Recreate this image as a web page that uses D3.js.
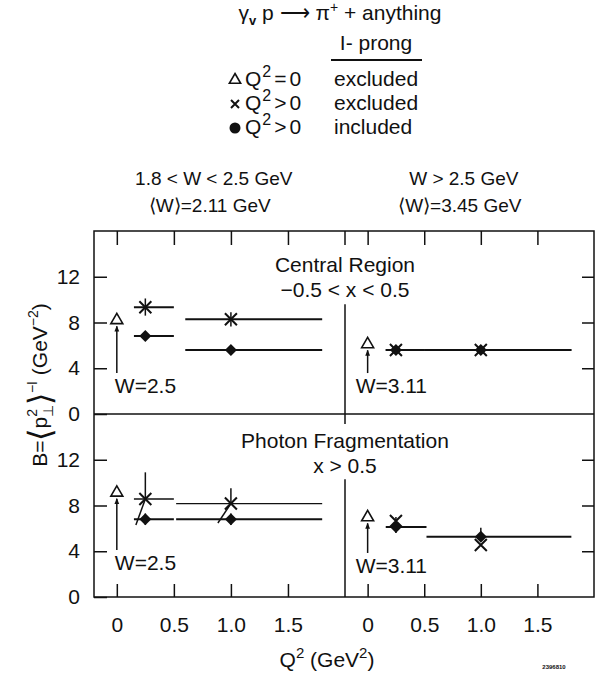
<!DOCTYPE html>
<html>
<head>
<meta charset="utf-8">
<script src="https://cdn.jsdelivr.net/npm/d3@7"></script>
<style>
  body { margin: 0; background: #fff; }
  text { fill: #111; }
</style>
</head>
<body>
<div id="chart"></div>
<script>
// ---- data ----
// panels in order: central/low W, central/high W, photon frag/low W, photon frag/high W
var q2Domain = [-0.2, 2.0];
var bDomain = [0, 16];
var yTicks = [0, 4, 8, 12];
var xTicks = [0, 0.5, 1.0, 1.5];
var xTickLabels = ["0", "0.5", "1.0", "1.5"];

var q2Centers = [0.25, 1.0];
var binStart = [[0.15, 0.6], [0.16, 0.5], [0.15, 0.52], [0.16, 0.52]];
var binEnd   = [[0.5, 1.8], [0.5, 1.8], [0.5, 1.8], [0.52, 1.8]];

// Q2 = 0, 1-prong excluded (open triangles), with threshold arrows
var realB = [8.2, 6.1, 9.12, 6.97];
var arrowFrom = [3.58, 3.58, 4.1, 3.85];
var wThreshold = ["W=2.5", "W=3.11", "W=2.5", "W=3.11"];

// Q2 > 0, 1-prong excluded (crosses)
var exclB   = [[9.33, 8.28], [5.6, 5.6], [8.57, 8.17], [6.64, 4.55]];
var exclHi  = [[10.1, 8.9], [5.6, 5.6], [10.9, 9.5], [6.64, 4.55]];
var exclLo  = [[8.6, 7.65], [5.6, 5.6], [6.3, 6.47], [6.64, 4.55]];
var exclLoQ2 = [[0.25, 1.0], [0.25, 1.0], [0.167, 0.886], [0.25, 1.0]];

// Q2 > 0, 1-prong included (filled diamonds)
var inclB  = [[6.82, 5.59], [5.6, 5.6], [6.8, 6.8], [6.12, 5.27]];
var inclHi = [[7.2, 5.9], [5.9, 5.9], [7.3, 7.3], [7.0, 6.05]];
var inclLo = [[6.5, 5.3], [5.3, 5.3], [6.3, 6.3], [5.6, 4.9]];

var wRangeLabels = ["1.8 < W < 2.5 GeV", "W > 2.5 GeV"];
var wMeanLabels = ["\u27E8W\u27E9=2.11 GeV", "\u27E8W\u27E9=3.45 GeV"];
var regionLabels = [["Central Region", "\u22120.5 < x < 0.5"], ["Photon Fragmentation", "x > 0.5"]];
var legendSymbols = ["triangle", "cross", "dot"];
var legendQ2 = ["=0", ">0", ">0"];
var legendProng = ["excluded", "excluded", "included"];

// ---- layout ----
var frame = {left: 94, right: 594, top: 231, mid: 414, bottom: 597, split: 345};
var font = "'Liberation Sans', Arial, sans-serif";

var svg = d3.select("#chart").append("svg")
  .attr("width", 597)
  .attr("height", 674)
  .style("font-family", font);

var xScales = [
  d3.scaleLinear().domain(q2Domain).range([frame.left, frame.split]),
  d3.scaleLinear().domain(q2Domain).range([frame.split, frame.right])
];
var yScales = [
  d3.scaleLinear().domain(bDomain).range([frame.mid, frame.top]),
  d3.scaleLinear().domain(bDomain).range([frame.bottom, frame.mid])
];

function crossPath(x, y, s) {
  return "M" + (x - s) + "," + (y - s) + "L" + (x + s) + "," + (y + s) +
         "M" + (x - s) + "," + (y + s) + "L" + (x + s) + "," + (y - s);
}

// title
var title = svg.append("text").attr("x", 340).attr("y", 20)
  .attr("text-anchor", "middle").attr("font-size", 21);
title.append("tspan").text("\u03B3");
title.append("tspan").attr("font-size", 13).attr("font-weight", "bold").attr("dy", 5).text("v");
title.append("tspan").attr("dy", -5).text(" p \u27F6 \u03C0");
title.append("tspan").attr("font-size", 14).attr("dy", -8).text("+");
title.append("tspan").attr("dy", 8).text(" + anything");

// legend
svg.append("text").attr("x", 376).attr("y", 50).attr("text-anchor", "middle")
  .attr("font-size", 21).text("I- prong");
svg.append("line").attr("x1", 331).attr("x2", 422).attr("y1", 60).attr("y2", 60)
  .attr("stroke", "#111").attr("stroke-width", 2);

legendSymbols.forEach(function(s, i) {
  var yb = 86 + i * 24;
  var cx = 235, cy = yb - 6;
  if (s == "triangle") {
    svg.append("path").attr("transform", "translate(" + cx + "," + cy + ")")
      .attr("d", d3.symbol().type(d3.symbolTriangle).size(55)())
      .attr("fill", "#fff").attr("stroke", "#111").attr("stroke-width", 1.6);
  } else if (s == "cross") {
    svg.append("path").attr("d", crossPath(cx, cy, 4))
      .attr("stroke", "#111").attr("stroke-width", 2);
  } else {
    svg.append("circle").attr("cx", cx).attr("cy", cy).attr("r", 5.5).attr("fill", "#111");
  }
  var t = svg.append("text").attr("x", 245).attr("y", yb).attr("font-size", 21);
  t.append("tspan").text("Q");
  t.append("tspan").attr("font-size", 16).attr("dy", -9).attr("dx", 1).text("2");
  t.append("tspan").attr("dy", 9).attr("dx", 3).attr("letter-spacing", 3).text(legendQ2[i]);
  svg.append("text").attr("x", 334).attr("y", yb).attr("font-size", 21).text(legendProng[i]);
});

// W bin headers
[0, 1].forEach(function(c) {
  var hx = xScales[c](0.85);
  svg.append("text").attr("x", hx).attr("y", 185).attr("text-anchor", "middle")
    .attr("font-size", 19).text(wRangeLabels[c]);
  svg.append("text").attr("x", hx - 4).attr("y", 212).attr("text-anchor", "middle")
    .attr("font-size", 19).text(wMeanLabels[c]);
});

// frame and separators
svg.append("rect")
  .attr("x", frame.left).attr("y", frame.top)
  .attr("width", frame.right - frame.left).attr("height", frame.bottom - frame.top)
  .attr("fill", "none").attr("stroke", "#111").attr("stroke-width", 1.5);
svg.append("line")
  .attr("x1", frame.left).attr("x2", frame.right).attr("y1", frame.mid).attr("y2", frame.mid)
  .attr("stroke", "#111").attr("stroke-width", 1.5);

// vertical divider, broken where the region labels sit
var dividerGap = [[frame.top + 14, yScales[0](9.6)], [frame.mid + 10, yScales[1](10.3)]];
[0, 1].forEach(function(r) {
  var top = r == 0 ? frame.top : frame.mid;
  var bot = r == 0 ? frame.mid : frame.bottom;
  svg.append("line").attr("x1", frame.split).attr("x2", frame.split)
    .attr("y1", top).attr("y2", dividerGap[r][0])
    .attr("stroke", "#111").attr("stroke-width", 1.5);
  svg.append("line").attr("x1", frame.split).attr("x2", frame.split)
    .attr("y1", dividerGap[r][1]).attr("y2", bot)
    .attr("stroke", "#111").attr("stroke-width", 1.5);
});

// region labels
var regionOffsets = [[41, 66], [34, 59]];
[0, 1].forEach(function(r) {
  var top = r == 0 ? frame.top : frame.mid;
  regionLabels[r].forEach(function(lbl, k) {
    svg.append("text").attr("x", frame.split).attr("y", top + regionOffsets[r][k])
      .attr("text-anchor", "middle").attr("font-size", 21).text(lbl);
  });
});

// axes
[0, 1].forEach(function(r) {
  var ya = svg.append("g")
    .attr("transform", "translate(" + frame.left + ",0)")
    .call(d3.axisLeft(yScales[r]).tickValues(yTicks)
      .tickSizeInner(-13).tickSizeOuter(0).tickPadding(14)
      .tickFormat(d3.format("d")));
  ya.select(".domain").remove();
  ya.attr("font-family", font).attr("font-size", 21);
  ya.selectAll("line").attr("stroke", "#111").attr("stroke-width", 1.5);
  ya.selectAll("text").attr("fill", "#111");

  var yr = svg.append("g")
    .attr("transform", "translate(" + frame.right + ",0)")
    .call(d3.axisRight(yScales[r]).tickValues([4, 8, 12])
      .tickSizeInner(-12).tickSizeOuter(0).tickFormat(""));
  yr.select(".domain").remove();
  yr.selectAll("line").attr("stroke", "#111").attr("stroke-width", 1.5);
});

[0, 1].forEach(function(c) {
  var xt = svg.append("g")
    .attr("transform", "translate(0," + frame.top + ")")
    .call(d3.axisTop(xScales[c]).tickValues(xTicks)
      .tickSizeInner(-14).tickSizeOuter(0).tickFormat(""));
  xt.select(".domain").remove();
  xt.selectAll("line").attr("stroke", "#111").attr("stroke-width", 1.5);

  var xb = svg.append("g")
    .attr("transform", "translate(0," + frame.bottom + ")")
    .call(d3.axisBottom(xScales[c]).tickValues(xTicks)
      .tickSizeInner(-13).tickSizeOuter(0).tickPadding(20)
      .tickFormat(function(d, i) { return xTickLabels[i]; }));
  xb.select(".domain").remove();
  xb.attr("font-family", font).attr("font-size", 21);
  xb.selectAll("line").attr("stroke", "#111").attr("stroke-width", 1.5);
  xb.selectAll("text").attr("fill", "#111");
});

// y axis title
var yl = svg.append("text").attr("transform", "translate(47,385) rotate(-90)")
  .attr("text-anchor", "middle").attr("font-size", 21);
yl.append("tspan").text("B=");
yl.append("tspan").attr("font-size", 32).attr("dy", 4).text("\u27E8");
yl.append("tspan").attr("dy", -4).text("p");
yl.append("tspan").attr("font-size", 14).attr("dy", -10).text("2");
yl.append("tspan").attr("font-size", 14).attr("dx", -8).attr("dy", 16).text("\u22A5");
yl.append("tspan").attr("font-size", 32).attr("dy", -2).text("\u27E9");
yl.append("tspan").attr("font-size", 14).attr("dy", -14).text("\u2212I");
yl.append("tspan").attr("dy", 10).text(" (GeV");
yl.append("tspan").attr("font-size", 14).attr("dy", -9).text("\u22122");
yl.append("tspan").attr("dy", 9).text(")");

// x axis title
var xl = svg.append("text").attr("x", 327).attr("y", 667)
  .attr("text-anchor", "middle").attr("font-size", 21);
xl.append("tspan").text("Q");
xl.append("tspan").attr("font-size", 15).attr("dy", -9).text("2");
xl.append("tspan").attr("dy", 9).text(" (GeV");
xl.append("tspan").attr("font-size", 15).attr("dy", -9).text("2");
xl.append("tspan").attr("dy", 9).text(")");

svg.append("text").attr("x", 554).attr("y", 669).attr("text-anchor", "middle")
  .attr("font-size", 6).attr("font-weight", "bold").text("2396810");

// arrowhead
svg.append("defs").append("marker")
  .attr("id", "head").attr("viewBox", "0 0 10 10")
  .attr("refX", 9).attr("refY", 5)
  .attr("markerWidth", 6).attr("markerHeight", 6)
  .attr("markerUnits", "userSpaceOnUse")
  .attr("orient", "auto")
  .append("path").attr("d", "M0,1L10,5L0,9Z").attr("fill", "#111");

// ---- data marks ----
var wLabelDx = [-2, -12];
[0, 1, 2, 3].forEach(function(i) {
  var r = Math.floor(i / 2), c = i % 2;
  var x = xScales[c], y = yScales[r];
  var g = svg.append("g");

  // real photon point + threshold arrow
  g.append("line")
    .attr("x1", x(0)).attr("x2", x(0))
    .attr("y1", y(arrowFrom[i])).attr("y2", y(realB[i]) + 6)
    .attr("stroke", "#111").attr("stroke-width", 1.5)
    .attr("marker-end", "url(#head)");
  g.append("path")
    .attr("transform", "translate(" + x(0) + "," + y(realB[i]) + ")")
    .attr("d", d3.symbol().type(d3.symbolTriangle).size(62)())
    .attr("fill", "#fff").attr("stroke", "#111").attr("stroke-width", 1.6);
  g.append("text")
    .attr("x", x(0) + wLabelDx[c]).attr("y", y(arrowFrom[i]) + 20)
    .attr("font-size", 21).text(wThreshold[i]);

  q2Centers.forEach(function(q, k) {
    // excluded: horizontal bin bar (not drawn in the high-W photon panel)
    if (i != 3) {
      g.append("line")
        .attr("x1", x(binStart[i][k])).attr("x2", x(binEnd[i][k]))
        .attr("y1", y(exclB[i][k])).attr("y2", y(exclB[i][k]))
        .attr("stroke", "#111").attr("stroke-width", r == 0 ? 2 : 1.3);
    }
    g.append("line")
      .attr("x1", x(q)).attr("x2", x(q))
      .attr("y1", y(exclHi[i][k])).attr("y2", y(exclB[i][k]))
      .attr("stroke", "#111").attr("stroke-width", 1.5);
    g.append("line")
      .attr("x1", x(exclLoQ2[i][k])).attr("x2", x(q))
      .attr("y1", y(exclLo[i][k])).attr("y2", y(exclB[i][k]))
      .attr("stroke", "#111").attr("stroke-width", 1.5);
    g.append("path")
      .attr("d", crossPath(x(q), y(exclB[i][k]), 6))
      .attr("stroke", "#111").attr("stroke-width", 2);

    // included: horizontal bin bar, error bar, diamond
    g.append("line")
      .attr("x1", x(binStart[i][k])).attr("x2", x(binEnd[i][k]))
      .attr("y1", y(inclB[i][k])).attr("y2", y(inclB[i][k]))
      .attr("stroke", "#111").attr("stroke-width", 2);
    g.append("line")
      .attr("x1", x(q)).attr("x2", x(q))
      .attr("y1", y(inclHi[i][k])).attr("y2", y(inclLo[i][k]))
      .attr("stroke", "#111").attr("stroke-width", 1.5);
    g.append("path")
      .attr("transform", "translate(" + x(q) + "," + y(inclB[i][k]) + ") rotate(45)")
      .attr("d", d3.symbol().type(d3.symbolSquare).size(72)())
      .attr("fill", "#111");
  });
});
</script>
</body>
</html>
